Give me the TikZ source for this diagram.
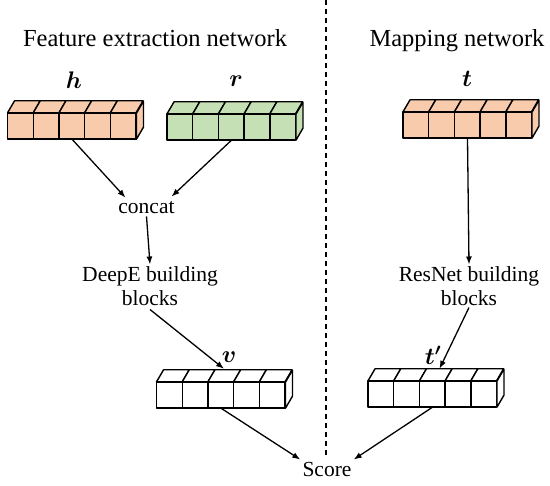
\RequirePackage{fix-cm}
\documentclass[tikz,border=0pt]{standalone}
\usepackage{fontspec}
\setmainfont{Liberation Serif}
\usepackage{amsmath,bm}
\usepackage{tikz}
\usetikzlibrary{calc,arrows.meta,positioning}
\definecolor{peach}{RGB}{248,203,173}
\definecolor{sage}{RGB}{197,224,180}

% one row of five cubes on the front face of node #1
\newcommand{\cuberow}[2]{%
  \foreach \k in {0,...,4}{
    \draw[blk, fill=#2] ($(#1.south west)+(25.7*\k,0)$) rectangle ++(25.7,-26);
    \draw[blk, fill=#2] ($(#1.north west)+(25.7*\k,0)$) -- ++(7,-12) -- ++(25.7,0) -- ++(-7,12) -- cycle;
  }
  \draw[blk, fill=#2] (#1.south east) -- ++(7,-12) -- ++(0,-26) -- ++(-7,12) -- cycle;
}

\tikzset{
  blk/.style={line width=1.4pt, line join=round},
  vec/.style={minimum width=128.5pt, minimum height=26pt, inner sep=0pt},
  lab/.style={font=\fontsize{21.5}{23.5}\selectfont, align=center, inner sep=2pt},
  sym/.style={font=\fontsize{24}{26}\selectfont, inner sep=1pt},
  ttl/.style={font=\fontsize{24.5}{28}\selectfont, anchor=base},
  arr/.style={-{Latex[length=8pt,width=6pt]}, line width=1.3pt},
}

\begin{document}
\begin{tikzpicture}[x=1pt, y=-1pt]
\useasboundingbox (0,0) rectangle (550,486);
%
\node[ttl] (left)  at (155,47) {Feature extraction network};
\node[ttl] (right) at (457,47) {Mapping network};
\draw[line width=1.4pt, dash pattern=on 5pt off 4pt] (326,0) -- (326,458);
%
\node[vec] (hb)  at (72,126)    {};
\node[vec] (rb)  at (231.5,127) {};
\node[vec] (tb)  at (467.5,125) {};
\node[vec] (vb)  at (221,395)   {};
\node[vec] (tpb) at (432.5,394) {};
\cuberow{hb}{peach}
\cuberow{rb}{sage}
\cuberow{tb}{peach}
\cuberow{vb}{white}
\cuberow{tpb}{white}
%
\node[sym] (h)  at (74,80)   {$\bm{h}$};
\node[sym] (r)  at (236,81)  {$\bm{r}$};
\node[sym] (t)  at (467,79)  {$\bm{t}$};
\node[sym] (v)  at (229,357) {$\bm{v}$};
\node[sym] (tp) at (433,355) {$\bm{t'}$};
%
\node[lab] (cat)    at (146.5,208) {concat};
\node[lab] (deepe)  at (150,286) {DeepE building\\blocks};
\node[lab] (resnet) at (469,286) {ResNet building\\blocks};
\node[lab] (score)  at (327,469) {Score};
%
\coordinate (vtop)  at ($(vb.north)+(3,-13)$);
\coordinate (tptop) at ($(tpb.north)+(7,-12)$);
%
\draw[arr] (hb.south) -- ($(cat.north)+(-21,-2)$);
\draw[arr] (rb.south) -- ($(cat.north)+(25,-3)$);
\draw[arr] (cat.south) -- (deepe.north);
\draw[arr] (tb.south) -- (resnet.north);
\draw[arr] (deepe.south) ++(0,2) -- (vtop);
\draw[arr] (resnet.south) -- (tptop);
\draw[arr] (vb.south) -- (score.north west);
\draw[arr] (tpb.south) -- (score.north east);
\end{tikzpicture}
\end{document}
